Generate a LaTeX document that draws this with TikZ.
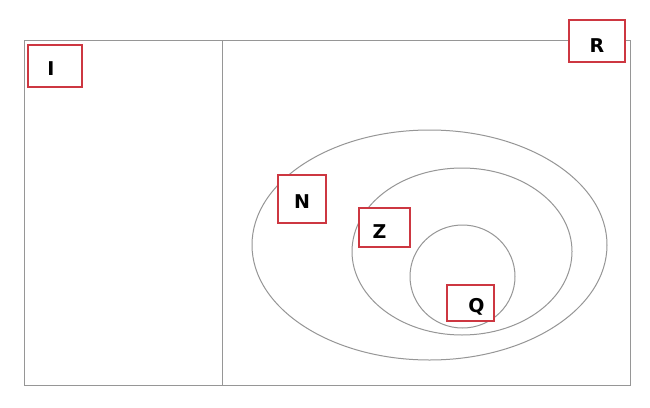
\documentclass[tikz,border=0pt]{standalone}
\usepackage{fontspec}
\setmainfont{DejaVu Sans}
\usetikzlibrary{shapes.geometric}
\definecolor{linegray}{RGB}{150,150,150}
\definecolor{boxred}{RGB}{205,55,65}
\begin{document}
\begin{tikzpicture}[x=1pt,y=-1pt,
  setbox/.style={draw=boxred,line width=1.6pt,fill=white,inner sep=0pt,font=\fontsize{19}{21}\selectfont\bfseries},
  setline/.style={draw=linegray,line width=1pt}]
\useasboundingbox (0,0) rectangle (650,407);
\fill[white] (0,0) rectangle (650,407);
\draw[setline] (24,40) rectangle (630,385);
\draw[setline] (222,40) -- (222,385);
\draw[setline] (429.5,245) ellipse [x radius=177.5, y radius=115];
\draw[setline] (462,251.5) ellipse [x radius=110, y radius=83.5];
\draw[setline] (462.5,276.5) ellipse [x radius=52.5, y radius=51.5];
\node[setbox,minimum width=54pt,minimum height=42pt] (I) at (55,66) {\hspace*{-8pt}\rule{0pt}{18pt}I};
\node[setbox,minimum width=56pt,minimum height=42pt] (R) at (597,41) {\rule{0pt}{22pt}R};
\node[setbox,minimum width=48pt,minimum height=48pt] (N) at (302,199) {\rule{0pt}{18pt}N};
\node[setbox,minimum width=51pt,minimum height=39pt] (Z) at (384.5,227.5) {\hspace*{-10pt}\rule{0pt}{22pt}Z};
\node[setbox,minimum width=47pt,minimum height=36pt] (Q) at (470.5,303) {\hspace*{12pt}\rule{0pt}{22pt}Q};
\end{tikzpicture}
\end{document}
